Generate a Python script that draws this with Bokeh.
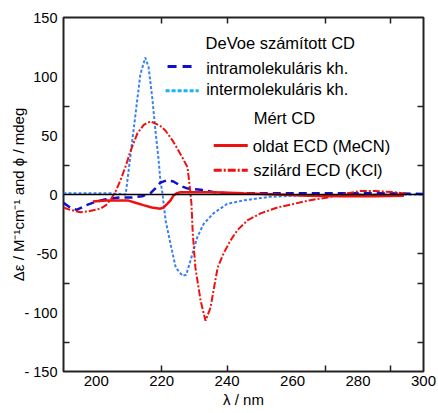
from bokeh.plotting import figure
from bokeh.models import FixedTicker, LinearAxis, Range1d, Span
from bokeh.embed import file_html
from bokeh.resources import INLINE
from bokeh.core.properties import value

# ---------------- data ----------------
# DeVoe calculated CD, intramolecular interaction (dark blue dashed)
intra_nm = [190, 192, 194, 197, 200, 203, 207, 211, 214, 216.5, 218, 219.6, 221.5,
            223.6, 226, 228, 232, 236, 240, 250, 260, 270, 280, 290, 300]
intra_val = [-7, -11, -13, -9, -6, -4, -2.5, -2.5, -1.5, 1, 5, 10, 12,
             11, 7, 5, 4, 2, 1, 1, 1, 1, 1, 1, 0.5]

# DeVoe calculated CD, intermolecular interaction (blue dotted)
inter_nm = [190, 195, 200, 205, 209, 210.5, 212, 213.5, 215, 216, 217.2, 218.1, 219,
            219.6, 220.3, 220.6, 221.2, 222.7, 224.3, 226.4, 227.5, 228.8, 230.9,
            232.8, 235.8, 240, 245, 253, 260, 270, 280, 290, 300]
inter_val = [1, 1, 1, 1, 0, 34, 68, 102, 116, 108, 80, 54, 31,
             12, 0, -8, -22, -42, -62, -69, -68, -56, -36,
             -25, -16, -8, -5, -2, -1, -0.5, 0, 0, 0]

# measured solution ECD (MeCN) (red solid)
sol_nm = [199, 203, 206, 209.6, 212, 214.4, 217, 219.6, 220.6, 221.7, 222.7, 223.6,
          224.6, 225.8, 228, 232, 236, 245, 255, 265, 275, 285, 294]
sol_val = [-6, -5, -5, -5, -7, -9, -11, -12, -11, -8, -5, -1,
           1, 2, 2, 2, 2, 1, 0, -1, -1.5, -1.5, -1]

# measured solid-state ECD (KCl) (red dash-dot)
solid_nm = [190, 192, 195.2, 198, 201.3, 203, 204.5, 206, 207.4, 209, 210.5, 212.6,
            214.5, 216.6, 219.6, 221.2, 223.5, 225.8, 227.9, 228.6, 229.1, 229.5,
            230.3, 231.9, 233.4, 234.9, 237.1, 238.9, 241, 243.2, 246.2, 250.2,
            255.4, 260.3, 265, 270.7, 276.8, 280.8, 285, 290.8, 295.1]
solid_val = [-11, -13, -15, -14, -12, -9, -4, 3, 12, 24, 37, 52,
             59, 62, 58, 54, 45, 34, 23, 6, -8, -33,
             -62, -90, -107, -96, -62, -50, -39, -30, -22, -16,
             -11, -8, -5, -2.5, 1, 3, 3, 2, 0.5]

x_ticks = [200, 220, 240, 260, 280, 300]
x_minor = [220, 240, 270, 290]
y_ticks = [-150, -100, -50, 0, 50, 100, 150]
y_tick_labels = {-150: "- 150", -100: "- 100", -50: "-50"}
y_minor_left = [75, 25, -75, -125]
y_minor_right = [75, 25, -50, -75, -125]

x_title = "λ / nm"
y_title = "Δε / M⁻¹cm⁻¹ and ϕ / mdeg"
legend_texts = ["DeVoe számított CD", "intramolekuláris kh.", "intermolekuláris kh.",
                "Mért CD", "oldat ECD (MeCN)", "szilárd ECD (KCl)"]

# ---------------- styling / layout ----------------
FONT = "Liberation Sans"
DARKBLUE = "#1010cc"
BLUE = "#3a80f0"
CYAN = "#18b4f0"
RED = "#ee1111"

p = figure(width=438, height=413, x_range=Range1d(190, 300), y_range=Range1d(-150, 150),
           output_backend="svg", toolbar_location=None,
           min_border_left=63, min_border_right=15, min_border_top=17, min_border_bottom=42)
p.grid.visible = False
p.outline_line_color = "#222222"
p.outline_line_width = 2
p.background_fill_color = "white"
p.border_fill_color = "white"

def style_axis(ax, size):
    ax.axis_line_color = None
    ax.major_tick_in = 0
    ax.major_tick_out = 0
    ax.minor_tick_in = 6
    ax.minor_tick_out = 0
    ax.minor_tick_line_color = "#222222"
    ax.minor_tick_line_width = 1.5
    ax.major_label_text_font = FONT
    ax.major_label_text_font_size = size
    ax.major_label_text_color = "black"
    ax.axis_label_text_font = FONT
    ax.axis_label_text_font_size = "15px"
    ax.axis_label_text_font_style = "normal"
    ax.axis_label_text_color = "black"

xa = p.xaxis[0]
xa.ticker = FixedTicker(ticks=x_ticks, minor_ticks=x_minor)
style_axis(xa, "15px")
xa.major_label_standoff = 4
xa.axis_label = x_title
xa.axis_label_standoff = 2

ya = p.yaxis[0]
ya.ticker = FixedTicker(ticks=y_ticks, minor_ticks=y_minor_left)
style_axis(ya, "14.5px")
ya.major_label_overrides = y_tick_labels
ya.major_label_standoff = 6
ya.axis_label = y_title
ya.axis_label_standoff = -6

ra = LinearAxis(ticker=FixedTicker(ticks=[], minor_ticks=y_minor_right))
style_axis(ra, "0px")
ra.major_label_standoff = 0
p.add_layout(ra, "right")

ta = LinearAxis(ticker=FixedTicker(ticks=[], minor_ticks=x_minor))
style_axis(ta, "0px")
ta.major_label_standoff = 0
p.add_layout(ta, "above")

p.add_layout(Span(location=0, dimension="width", line_color="black", line_width=1.5))

# curves
p.line(inter_nm, inter_val, line_color=BLUE, line_width=2, line_dash="3 2")
p.line(intra_nm, intra_val, line_color=DARKBLUE, line_width=2.5, line_dash="8 5")
p.line(solid_nm, solid_val, line_color=RED, line_width=2, line_dash="7 2 2 2")
p.line(sol_nm, sol_val, line_color=RED, line_width=2.5)

# legend (manual, positioned in data space)
p.text(x=[233.4, 233.6, 233.6, 248.1, 247.8, 248.0],
       y=[128, 107.5, 89, 64.5, 41.5, 20.5],
       text=legend_texts, text_font=value(FONT), text_font_size="16.5px",
       text_baseline="middle", text_align="left", text_color="black")
p.line([221.8, 229.8], [108.5, 108.5], line_color=DARKBLUE, line_width=3, line_dash="9 6")
p.line([221.2, 231.3], [88, 88], line_color=CYAN, line_width=3, line_dash="4 2")
p.line([235.9, 246.3], [41.5, 41.5], line_color=RED, line_width=3)
p.line([235.9, 246.3], [20.5, 20.5], line_color=RED, line_width=3, line_dash="8 2 2 2")

open("out.html", "w").write(file_html(p, INLINE))
